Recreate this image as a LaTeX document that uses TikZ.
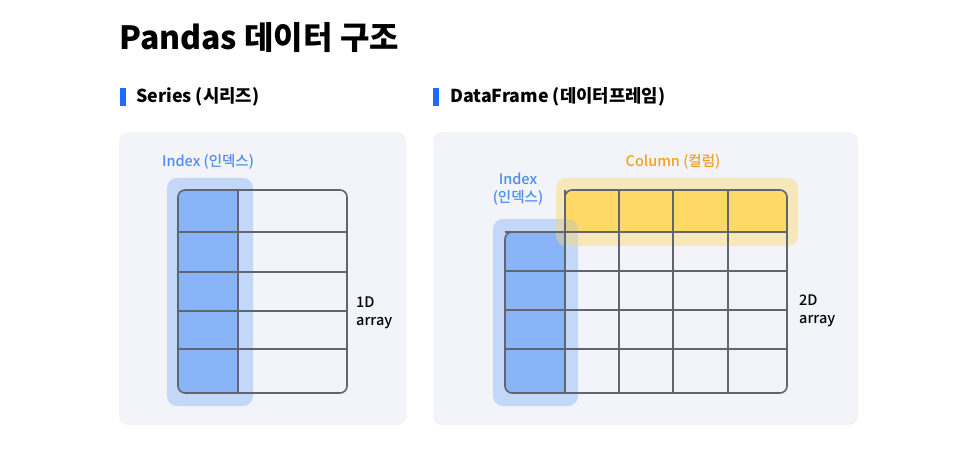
\documentclass[tikz,border=0pt]{standalone}
\usepackage{fontspec}
\setmainfont{Noto Sans CJK KR}
\IfFontExistsTF{Noto Sans CJK KR Medium}
    {\newfontfamily\lblfont{Noto Sans CJK KR Medium}}
    {\newfontfamily\lblfont{Noto Sans CJK KR}}
\usepackage{xcolor}
\usetikzlibrary{positioning}

\definecolor{panelbg}{HTML}{F2F4F9}
\definecolor{barblue}{HTML}{1A6DFF}
\definecolor{idxblue}{HTML}{8AB4F8}
\definecolor{idxtext}{HTML}{4A8CF7}
\definecolor{colyellow}{HTML}{FFD966}
\definecolor{coltext}{HTML}{F5A020}
\definecolor{gridgray}{HTML}{5F6670}

\begin{document}
\begin{tikzpicture}[x=1pt, y=-1pt,
    gridline/.style={draw=gridgray, line width=1.6pt},
    lbl/.style={inner sep=0pt, font=\lblfont\fontsize{14.5}{18}\selectfont}]
    \fill[white] (0,0) rectangle (975,473);
    \useasboundingbox (0,0) rectangle (975,473);

    % --- TITLE ---
    \node[anchor=base west, inner sep=0pt, font=\fontsize{32}{32}\selectfont\bfseries] (title) at (119,50) {Pandas 데이터 구조};

    % --- SERIES (LEFT) ---
    \fill[barblue] (120,88) rectangle (126,106);
    \node[anchor=base west, inner sep=0pt, font=\fontsize{17.8}{18}\selectfont\bfseries] (serhead) at (136,103) {Series (시리즈)};
    \fill[panelbg, rounded corners=9] (119,132) rectangle (406,425);

    % index column fill
    \begin{scope}
        \clip[rounded corners=7] (178,190) rectangle (347,393);
        \fill[idxblue] (178,190) rectangle (238,393);
    \end{scope}
    \fill[idxblue, opacity=0.45, rounded corners=10] (167,178) rectangle (253,406);

    % grid
    \draw[gridline, rounded corners=7] (178,190) rectangle (347,393);
    \foreach \y in {232,272,311,349} \draw[gridline] (178,\y) -- (347,\y);
    \draw[gridline] (238,190) -- (238,393);

    \node[lbl, text=idxtext] (seridx) at (208,162) {Index (인덱스)};
    \node[lbl, anchor=west, align=left] (serdim) at (356,313) {1D\\array};

    % --- DATAFRAME (RIGHT) ---
    \fill[barblue] (433,88) rectangle (439,106);
    \node[anchor=base west, inner sep=0pt, font=\fontsize{17.8}{18}\selectfont\bfseries] (dfhead) at (450,103) {DataFrame (데이터프레임)};
    \fill[panelbg, rounded corners=9] (433,132) rectangle (858,425);

    % header and index fills
    \begin{scope}
        \clip[rounded corners=7] (565,190) rectangle (787,393);
        \fill[colyellow] (565,190) rectangle (787,232);
    \end{scope}
    \begin{scope}
        \clip[rounded corners=7] (505,232) rectangle (787,393);
        \fill[idxblue] (505,232) rectangle (565,393);
    \end{scope}
    \fill[idxblue, opacity=0.45, rounded corners=10] (493,219) rectangle (578,406);
    \fill[colyellow, opacity=0.42, rounded corners=10] (556,178) rectangle (798,246);

    % grid
    \draw[gridline, rounded corners=7] (565,232) -- (565,190) -- (787,190) -- (787,393) -- (505,393) -- (505,232) -- (565,232);
    \foreach \x in {565,619,673,728} \draw[gridline] (\x,190) -- (\x,393);
    \foreach \y in {232,271,310,349} \draw[gridline] (505,\y) -- (787,\y);

    \node[lbl, text=idxtext, align=center] (dfidx) at (518,189) {Index\\(인덱스)};
    \node[lbl, text=coltext] (dfcol) at (673,162) {Column (컬럼)};
    \node[lbl, anchor=west, align=left] (dfdim) at (799,311) {2D\\array};
\end{tikzpicture}
\end{document}
